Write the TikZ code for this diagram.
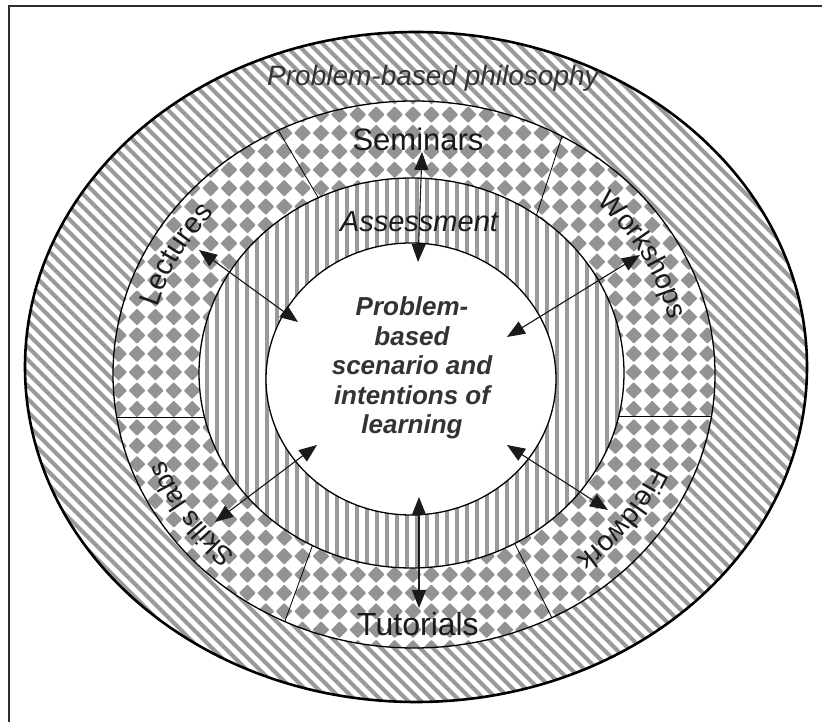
\documentclass[tikz,border=0pt]{standalone}
\usepackage{fontspec}
\setmainfont{Liberation Sans}
\usetikzlibrary{arrows.meta,decorations.text}
\definecolor{stripe}{HTML}{9A9A9A}
\definecolor{diamond}{HTML}{939393}
\definecolor{framecol}{HTML}{23313D}
\definecolor{inkdark}{HTML}{1A1A1A}
\definecolor{inkgray}{HTML}{333333}
\begin{document}
\begin{tikzpicture}[x=1pt,y=1pt,
  ringline/.style={draw=black,line width=1.3pt},
  dblarrow/.style={{Triangle[length=18pt,width=14pt]}-{Triangle[length=18pt,width=14pt]},line width=1.1pt,draw=inkdark,fill=inkdark},
  sepline/.style={draw=black,line width=0.8pt},
  ringlabel/.style={text=inkdark,font=\fontsize{31}{31}\selectfont,inner sep=0pt}]
\useasboundingbox (0,0) rectangle (822,722);
\fill[white] (0,0) rectangle (822,722);
% window frame, top and left edges
\draw[framecol,line width=2pt] (9,0) -- (9,716) -- (822,716);

% outer band: diagonal stripes
\begin{scope}
  \clip (416,355) ellipse [x radius=391,y radius=335];
  \foreach \c in {0,13,...,1560}
    \draw[stripe,line width=4.2pt] (\c,0) -- (\c-722,722);
\end{scope}

% middle band: diamond checker
\fill[white] (414,347.5) ellipse [x radius=301,y radius=273.5];
\begin{scope}
  \clip (414,347.5) ellipse [x radius=301,y radius=273.5];
  \foreach \i in {0,...,34}
    \foreach \j in {0,...,32}
      \fill[diamond,rounded corners=0.8pt] ({100.2+18.4*\i},{55.4+18.4*\j})
        +(-8.4,0) -- +(0,8.4) -- +(8.4,0) -- +(0,-8.4) -- cycle;
  % separators between the activity sectors
  \coordinate (sepLa) at (105,305);  \coordinate (sepLb) at (215,305);
  \coordinate (sepRa) at (610,306);  \coordinate (sepRb) at (725,306);
  \coordinate (sepTLa) at (274,599); \coordinate (sepTLb) at (322,518);
  \coordinate (sepTRa) at (565,595); \coordinate (sepTRb) at (534,499);
  \coordinate (sepBLa) at (313,178); \coordinate (sepBLb) at (281,90);
  \coordinate (sepBRa) at (515,178); \coordinate (sepBRb) at (558,92);
  \draw[sepline] (sepLa) -- (sepLb);
  \draw[sepline] (sepRa) -- (sepRb);
  \draw[sepline] (sepTLa) -- (sepTLb);
  \draw[sepline] (sepTRa) -- (sepTRb);
  \draw[sepline] (sepBLa) -- (sepBLb);
  \draw[sepline] (sepBRa) -- (sepBRb);
\end{scope}

% assessment band: vertical stripes
\fill[white] (411.5,349) ellipse [x radius=212.5,y radius=195];
\begin{scope}
  \clip (411.5,349) ellipse [x radius=212.5,y radius=195];
  \foreach \x in {196.7,206.7,...,630}
    \draw[stripe,line width=4pt] (\x,140) -- (\x,560);
\end{scope}

% centre disc
\fill[white] (411,343) ellipse [x radius=145,y radius=136];

% outlines
\draw[black,line width=2.6pt] (416,355) ellipse [x radius=391,y radius=335];
\draw[ringline] (414,347.5) ellipse [x radius=301,y radius=273.5];
\draw[ringline] (411.5,349) ellipse [x radius=212.5,y radius=195];
\draw[ringline] (411,343) ellipse [x radius=145,y radius=136];

% two-way arrows between the centre and the activities
\coordinate (semOut) at (422,570);  \coordinate (semIn) at (418,460);
\coordinate (tutOut) at (419,114);  \coordinate (tutIn) at (419,225);
\coordinate (lecOut) at (199,472);  \coordinate (lecIn) at (298,400);
\coordinate (wrkOut) at (640,467);  \coordinate (wrkIn) at (507,385);
\coordinate (sklOut) at (215,200);  \coordinate (sklIn) at (317,277);
\coordinate (fldOut) at (608,212);  \coordinate (fldIn) at (507,277);
\draw[dblarrow] (semOut) -- (semIn);
\draw[dblarrow] (tutIn) -- (tutOut);
\draw[dblarrow] (lecOut) -- (lecIn);
\draw[dblarrow] (wrkOut) -- (wrkIn);
\draw[dblarrow] (sklOut) -- (sklIn);
\draw[dblarrow] (fldOut) -- (fldIn);

% labels
\node[text=inkgray,font=\fontsize{28}{28}\selectfont\itshape,inner sep=0pt]
  (philosophy) at (433,644) {Problem-based philosophy};
\node[text=inkdark,font=\fontsize{29}{29}\selectfont\itshape,inner sep=0pt]
  (assessment) at (419,500) {Assessment};
\node[text=inkgray,font=\fontsize{26}{29.5}\selectfont\bfseries\itshape,align=center,inner sep=0pt]
  (scenario) at (412,354) {Problem-\\based\\scenario and\\intentions of\\learning};
\node[ringlabel] (seminars) at (418,583) {Seminars};
\node[ringlabel,font=\fontsize{32}{32}\selectfont] (tutorials) at (418,98) {Tutorials};

% curved activity labels along the checker band
\begin{scope}[shift={(413,348)}]
  \path[decorate,decoration={text along path,text align=center,text color=inkdark,
      text={|\fontsize{29}{29}\selectfont|Lectures}}]
    (181.7:266 and 242) arc[start angle=181.7,end angle=121.7,x radius=266,y radius=242];
  \path[decorate,decoration={text along path,text align=center,text color=inkdark,
      text={|\fontsize{28}{28}\selectfont|Workshops}}]
    (59:263 and 239.3) arc[start angle=59,end angle=-1,x radius=263,y radius=239.3];
  \path[decorate,decoration={text along path,text align=center,text color=inkdark,
      text={|\fontsize{27}{27}\selectfont|Skills labs}}]
    (244:266 and 242) arc[start angle=244,end angle=184,x radius=266,y radius=242];
  \path[decorate,decoration={text along path,text align=center,text color=inkdark,
      text={|\fontsize{28}{28}\selectfont|Fieldwork}}]
    (353.5:260 and 236.7) arc[start angle=353.5,end angle=293.5,x radius=260,y radius=236.7];
\end{scope}
\end{tikzpicture}
\end{document}
